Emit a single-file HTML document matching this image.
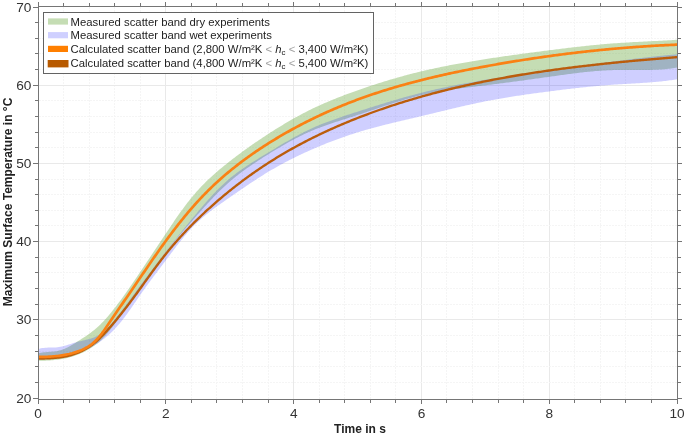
<!DOCTYPE html>
<html><head><meta charset="utf-8"><style>
html,body{margin:0;padding:0;background:#fff;width:685px;height:436px;overflow:hidden}
svg{display:block;font-family:"Liberation Sans",sans-serif}
</style></head><body>
<svg width="685" height="436" viewBox="0 0 685 436" font-family="'Liberation Sans', sans-serif" fill="#222">
<rect width="685" height="436" fill="#fff"/>
<line x1="63.5" y1="7" x2="63.5" y2="399" stroke="#f5f5f5" stroke-width="1" stroke-dasharray="2,1"/>
<line x1="89.5" y1="7" x2="89.5" y2="399" stroke="#f5f5f5" stroke-width="1" stroke-dasharray="2,1"/>
<line x1="114.5" y1="7" x2="114.5" y2="399" stroke="#f5f5f5" stroke-width="1" stroke-dasharray="2,1"/>
<line x1="140.5" y1="7" x2="140.5" y2="399" stroke="#f5f5f5" stroke-width="1" stroke-dasharray="2,1"/>
<line x1="165.5" y1="7" x2="165.5" y2="399" stroke="#e9e9e9" stroke-width="1"/>
<line x1="191.5" y1="7" x2="191.5" y2="399" stroke="#f5f5f5" stroke-width="1" stroke-dasharray="2,1"/>
<line x1="216.5" y1="7" x2="216.5" y2="399" stroke="#f5f5f5" stroke-width="1" stroke-dasharray="2,1"/>
<line x1="242.5" y1="7" x2="242.5" y2="399" stroke="#f5f5f5" stroke-width="1" stroke-dasharray="2,1"/>
<line x1="268.5" y1="7" x2="268.5" y2="399" stroke="#f5f5f5" stroke-width="1" stroke-dasharray="2,1"/>
<line x1="293.5" y1="7" x2="293.5" y2="399" stroke="#e9e9e9" stroke-width="1"/>
<line x1="319.5" y1="7" x2="319.5" y2="399" stroke="#f5f5f5" stroke-width="1" stroke-dasharray="2,1"/>
<line x1="344.5" y1="7" x2="344.5" y2="399" stroke="#f5f5f5" stroke-width="1" stroke-dasharray="2,1"/>
<line x1="370.5" y1="7" x2="370.5" y2="399" stroke="#f5f5f5" stroke-width="1" stroke-dasharray="2,1"/>
<line x1="395.5" y1="7" x2="395.5" y2="399" stroke="#f5f5f5" stroke-width="1" stroke-dasharray="2,1"/>
<line x1="421.5" y1="7" x2="421.5" y2="399" stroke="#e9e9e9" stroke-width="1"/>
<line x1="446.5" y1="7" x2="446.5" y2="399" stroke="#f5f5f5" stroke-width="1" stroke-dasharray="2,1"/>
<line x1="472.5" y1="7" x2="472.5" y2="399" stroke="#f5f5f5" stroke-width="1" stroke-dasharray="2,1"/>
<line x1="498.5" y1="7" x2="498.5" y2="399" stroke="#f5f5f5" stroke-width="1" stroke-dasharray="2,1"/>
<line x1="523.5" y1="7" x2="523.5" y2="399" stroke="#f5f5f5" stroke-width="1" stroke-dasharray="2,1"/>
<line x1="549.5" y1="7" x2="549.5" y2="399" stroke="#e9e9e9" stroke-width="1"/>
<line x1="574.5" y1="7" x2="574.5" y2="399" stroke="#f5f5f5" stroke-width="1" stroke-dasharray="2,1"/>
<line x1="600.5" y1="7" x2="600.5" y2="399" stroke="#f5f5f5" stroke-width="1" stroke-dasharray="2,1"/>
<line x1="625.5" y1="7" x2="625.5" y2="399" stroke="#f5f5f5" stroke-width="1" stroke-dasharray="2,1"/>
<line x1="651.5" y1="7" x2="651.5" y2="399" stroke="#f5f5f5" stroke-width="1" stroke-dasharray="2,1"/>
<line x1="39" y1="382.5" x2="677" y2="382.5" stroke="#f5f5f5" stroke-width="1" stroke-dasharray="2,1"/>
<line x1="39" y1="366.5" x2="677" y2="366.5" stroke="#f5f5f5" stroke-width="1" stroke-dasharray="2,1"/>
<line x1="39" y1="351.5" x2="677" y2="351.5" stroke="#f5f5f5" stroke-width="1" stroke-dasharray="2,1"/>
<line x1="39" y1="335.5" x2="677" y2="335.5" stroke="#f5f5f5" stroke-width="1" stroke-dasharray="2,1"/>
<line x1="39" y1="319.5" x2="677" y2="319.5" stroke="#e9e9e9" stroke-width="1"/>
<line x1="39" y1="304.5" x2="677" y2="304.5" stroke="#f5f5f5" stroke-width="1" stroke-dasharray="2,1"/>
<line x1="39" y1="288.5" x2="677" y2="288.5" stroke="#f5f5f5" stroke-width="1" stroke-dasharray="2,1"/>
<line x1="39" y1="272.5" x2="677" y2="272.5" stroke="#f5f5f5" stroke-width="1" stroke-dasharray="2,1"/>
<line x1="39" y1="257.5" x2="677" y2="257.5" stroke="#f5f5f5" stroke-width="1" stroke-dasharray="2,1"/>
<line x1="39" y1="241.5" x2="677" y2="241.5" stroke="#e9e9e9" stroke-width="1"/>
<line x1="39" y1="225.5" x2="677" y2="225.5" stroke="#f5f5f5" stroke-width="1" stroke-dasharray="2,1"/>
<line x1="39" y1="210.5" x2="677" y2="210.5" stroke="#f5f5f5" stroke-width="1" stroke-dasharray="2,1"/>
<line x1="39" y1="194.5" x2="677" y2="194.5" stroke="#f5f5f5" stroke-width="1" stroke-dasharray="2,1"/>
<line x1="39" y1="179.5" x2="677" y2="179.5" stroke="#f5f5f5" stroke-width="1" stroke-dasharray="2,1"/>
<line x1="39" y1="163.5" x2="677" y2="163.5" stroke="#e9e9e9" stroke-width="1"/>
<line x1="39" y1="147.5" x2="677" y2="147.5" stroke="#f5f5f5" stroke-width="1" stroke-dasharray="2,1"/>
<line x1="39" y1="132.5" x2="677" y2="132.5" stroke="#f5f5f5" stroke-width="1" stroke-dasharray="2,1"/>
<line x1="39" y1="116.5" x2="677" y2="116.5" stroke="#f5f5f5" stroke-width="1" stroke-dasharray="2,1"/>
<line x1="39" y1="100.5" x2="677" y2="100.5" stroke="#f5f5f5" stroke-width="1" stroke-dasharray="2,1"/>
<line x1="39" y1="85.5" x2="677" y2="85.5" stroke="#e9e9e9" stroke-width="1"/>
<line x1="39" y1="69.5" x2="677" y2="69.5" stroke="#f5f5f5" stroke-width="1" stroke-dasharray="2,1"/>
<line x1="39" y1="53.5" x2="677" y2="53.5" stroke="#f5f5f5" stroke-width="1" stroke-dasharray="2,1"/>
<line x1="39" y1="38.5" x2="677" y2="38.5" stroke="#f5f5f5" stroke-width="1" stroke-dasharray="2,1"/>
<line x1="39" y1="22.5" x2="677" y2="22.5" stroke="#f5f5f5" stroke-width="1" stroke-dasharray="2,1"/>
<path d="M38.10,353.52 L39.52,353.11 L40.97,352.78 L42.45,352.52 L43.95,352.32 L45.47,352.16 L47.00,352.04 L48.55,351.93 L50.09,351.82 L51.64,351.71 L53.18,351.58 L54.70,351.41 L56.21,351.20 L57.70,350.93 L59.16,350.59 L60.59,350.19 L62.01,349.73 L63.40,349.22 L64.77,348.65 L66.13,348.05 L67.47,347.40 L68.80,346.71 L70.11,346.00 L71.41,345.26 L72.71,344.49 L74.00,343.71 L75.28,342.92 L76.56,342.12 L77.84,341.31 L79.12,340.50 L80.39,339.69 L81.66,338.87 L82.93,338.05 L84.19,337.22 L85.44,336.38 L86.69,335.53 L87.92,334.66 L89.15,333.79 L90.36,332.90 L91.56,332.00 L92.75,331.08 L93.93,330.14 L95.09,329.19 L96.23,328.21 L97.36,327.22 L98.47,326.20 L99.57,325.17 L100.65,324.13 L101.71,323.06 L102.77,321.98 L103.81,320.89 L104.84,319.78 L105.85,318.66 L106.86,317.53 L107.85,316.38 L108.84,315.23 L109.81,314.07 L110.78,312.90 L111.74,311.72 L112.69,310.53 L113.64,309.34 L114.57,308.14 L115.51,306.94 L116.43,305.74 L117.36,304.53 L118.27,303.32 L119.19,302.10 L120.09,300.88 L121.00,299.66 L121.89,298.44 L122.79,297.22 L123.68,295.99 L124.57,294.76 L125.45,293.52 L126.33,292.29 L127.20,291.05 L128.07,289.81 L128.94,288.57 L129.81,287.33 L130.67,286.09 L131.53,284.84 L132.39,283.60 L133.24,282.35 L134.09,281.10 L134.94,279.85 L135.79,278.60 L136.64,277.35 L137.48,276.10 L138.33,274.85 L139.17,273.60 L140.01,272.36 L140.85,271.11 L141.68,269.86 L142.52,268.61 L143.36,267.36 L144.19,266.11 L145.03,264.86 L145.86,263.61 L146.69,262.36 L147.53,261.12 L148.36,259.87 L149.19,258.62 L150.02,257.37 L150.85,256.12 L151.69,254.87 L152.52,253.62 L153.35,252.37 L154.18,251.12 L155.01,249.86 L155.84,248.61 L156.67,247.36 L157.51,246.10 L158.34,244.85 L159.17,243.60 L160.01,242.34 L160.84,241.08 L161.67,239.82 L162.51,238.57 L163.35,237.31 L164.19,236.05 L165.02,234.78 L165.86,233.52 L166.71,232.26 L167.55,230.99 L168.39,229.73 L169.24,228.46 L170.09,227.19 L170.94,225.93 L171.79,224.66 L172.64,223.40 L173.50,222.13 L174.36,220.87 L175.22,219.61 L176.09,218.36 L176.96,217.10 L177.84,215.85 L178.71,214.60 L179.60,213.35 L180.48,212.11 L181.38,210.87 L182.27,209.64 L183.17,208.41 L184.08,207.19 L184.99,205.97 L185.91,204.75 L186.83,203.55 L187.76,202.35 L188.69,201.15 L189.63,199.96 L190.58,198.78 L191.54,197.61 L192.50,196.45 L193.47,195.29 L194.44,194.14 L195.43,193.00 L196.42,191.87 L197.42,190.75 L198.42,189.64 L199.44,188.53 L200.46,187.44 L201.49,186.36 L202.53,185.28 L203.58,184.22 L204.63,183.16 L205.69,182.11 L206.76,181.07 L207.84,180.03 L208.92,179.01 L210.01,177.99 L211.10,176.98 L212.20,175.97 L213.31,174.98 L214.42,173.98 L215.54,173.00 L216.66,172.02 L217.79,171.05 L218.93,170.08 L220.07,169.12 L221.22,168.16 L222.37,167.21 L223.52,166.26 L224.68,165.32 L225.85,164.38 L227.02,163.44 L228.19,162.51 L229.37,161.58 L230.55,160.66 L231.73,159.74 L232.92,158.82 L234.12,157.90 L235.31,156.99 L236.51,156.09 L237.72,155.18 L238.92,154.28 L240.13,153.38 L241.35,152.49 L242.56,151.60 L243.78,150.71 L245.00,149.82 L246.23,148.94 L247.46,148.06 L248.69,147.19 L249.92,146.32 L251.16,145.45 L252.40,144.58 L253.64,143.72 L254.88,142.87 L256.13,142.01 L257.38,141.16 L258.63,140.31 L259.88,139.47 L261.14,138.63 L262.39,137.79 L263.65,136.96 L264.91,136.13 L266.18,135.30 L267.44,134.48 L268.70,133.65 L269.97,132.84 L271.24,132.02 L272.51,131.22 L273.78,130.41 L275.06,129.61 L276.33,128.81 L277.61,128.01 L278.89,127.22 L280.17,126.44 L281.45,125.66 L282.74,124.88 L284.03,124.11 L285.32,123.34 L286.61,122.57 L287.91,121.81 L289.21,121.06 L290.51,120.31 L291.81,119.56 L293.12,118.82 L294.43,118.09 L295.74,117.36 L297.06,116.63 L298.38,115.91 L299.70,115.20 L301.03,114.49 L302.36,113.79 L303.69,113.09 L305.03,112.40 L306.37,111.71 L307.71,111.03 L309.06,110.36 L310.41,109.69 L311.77,109.03 L313.13,108.37 L314.49,107.72 L315.86,107.08 L317.23,106.44 L318.61,105.81 L319.99,105.18 L321.37,104.56 L322.76,103.95 L324.14,103.34 L325.53,102.73 L326.93,102.14 L328.33,101.54 L329.72,100.96 L331.13,100.38 L332.53,99.80 L333.93,99.23 L335.34,98.66 L336.75,98.10 L338.16,97.54 L339.57,96.99 L340.99,96.44 L342.40,95.90 L343.82,95.36 L345.23,94.82 L346.65,94.29 L348.06,93.76 L349.48,93.24 L350.90,92.72 L352.32,92.21 L353.73,91.70 L355.15,91.19 L356.57,90.68 L357.98,90.18 L359.40,89.69 L360.81,89.19 L362.23,88.70 L363.64,88.21 L365.05,87.73 L366.47,87.25 L367.88,86.77 L369.29,86.30 L370.71,85.83 L372.12,85.37 L373.53,84.90 L374.94,84.44 L376.35,83.99 L377.76,83.54 L379.18,83.09 L380.59,82.64 L382.00,82.20 L383.41,81.76 L384.83,81.33 L386.24,80.89 L387.65,80.47 L389.06,80.04 L390.48,79.62 L391.89,79.20 L393.31,78.79 L394.72,78.38 L396.14,77.97 L397.56,77.57 L398.97,77.17 L400.39,76.77 L401.81,76.38 L403.23,75.99 L404.65,75.61 L406.07,75.23 L407.49,74.85 L408.92,74.47 L410.34,74.10 L411.77,73.73 L413.20,73.37 L414.62,73.01 L416.05,72.65 L417.48,72.30 L418.92,71.95 L420.35,71.60 L421.78,71.26 L423.22,70.92 L424.66,70.58 L426.10,70.25 L427.54,69.92 L428.98,69.59 L430.42,69.27 L431.87,68.95 L433.31,68.64 L434.76,68.32 L436.21,68.01 L437.66,67.71 L439.11,67.40 L440.56,67.10 L442.01,66.81 L443.47,66.51 L444.92,66.22 L446.38,65.93 L447.84,65.64 L449.30,65.36 L450.76,65.08 L452.22,64.80 L453.69,64.52 L455.15,64.25 L456.62,63.98 L458.09,63.71 L459.56,63.44 L461.03,63.18 L462.50,62.92 L463.97,62.66 L465.44,62.40 L466.92,62.14 L468.39,61.89 L469.87,61.64 L471.35,61.39 L472.82,61.14 L474.30,60.90 L475.79,60.65 L477.27,60.41 L478.75,60.17 L480.23,59.93 L481.72,59.70 L483.21,59.46 L484.69,59.23 L486.18,58.99 L487.67,58.76 L489.16,58.54 L490.65,58.31 L492.14,58.08 L493.64,57.86 L495.13,57.63 L496.63,57.41 L498.12,57.19 L499.62,56.97 L501.12,56.75 L502.61,56.54 L504.11,56.32 L505.61,56.11 L507.11,55.89 L508.61,55.68 L510.11,55.47 L511.61,55.26 L513.11,55.05 L514.61,54.84 L516.12,54.63 L517.62,54.43 L519.12,54.22 L520.62,54.02 L522.13,53.82 L523.63,53.61 L525.13,53.41 L526.64,53.21 L528.14,53.01 L529.65,52.81 L531.15,52.61 L532.66,52.42 L534.16,52.22 L535.66,52.02 L537.17,51.83 L538.67,51.63 L540.18,51.44 L541.68,51.25 L543.18,51.05 L544.69,50.86 L546.19,50.67 L547.69,50.48 L549.19,50.29 L550.70,50.10 L552.20,49.91 L553.70,49.72 L555.20,49.53 L556.70,49.34 L558.20,49.15 L559.70,48.97 L561.20,48.78 L562.70,48.60 L564.20,48.41 L565.70,48.23 L567.20,48.05 L568.70,47.87 L570.20,47.69 L571.70,47.51 L573.20,47.34 L574.69,47.16 L576.19,46.99 L577.69,46.82 L579.19,46.65 L580.69,46.48 L582.19,46.32 L583.69,46.15 L585.19,45.99 L586.69,45.83 L588.19,45.67 L589.69,45.51 L591.19,45.36 L592.69,45.21 L594.19,45.06 L595.69,44.91 L597.19,44.77 L598.69,44.63 L600.19,44.49 L601.69,44.35 L603.20,44.22 L604.70,44.08 L606.20,43.96 L607.71,43.83 L609.21,43.71 L610.71,43.59 L612.22,43.47 L613.72,43.36 L615.23,43.25 L616.74,43.14 L618.24,43.04 L619.75,42.94 L621.26,42.84 L622.77,42.74 L624.28,42.65 L625.79,42.55 L627.30,42.46 L628.81,42.38 L630.31,42.29 L631.83,42.21 L633.34,42.12 L634.85,42.04 L636.36,41.96 L637.87,41.88 L639.38,41.80 L640.89,41.73 L642.40,41.65 L643.91,41.57 L645.42,41.50 L646.93,41.42 L648.44,41.35 L649.95,41.27 L651.46,41.20 L652.97,41.12 L654.48,41.05 L655.99,40.97 L657.50,40.89 L659.01,40.81 L660.52,40.73 L662.03,40.65 L663.54,40.57 L665.05,40.49 L666.55,40.41 L668.06,40.32 L669.57,40.23 L671.07,40.14 L672.58,40.05 L674.08,39.96 L675.59,39.86 L677.09,39.76 L677.10,67.56 L675.62,67.81 L674.15,68.05 L672.67,68.27 L671.19,68.48 L669.71,68.66 L668.23,68.84 L666.75,69.00 L665.27,69.14 L663.78,69.27 L662.30,69.39 L660.82,69.49 L659.33,69.59 L657.85,69.67 L656.36,69.74 L654.88,69.81 L653.39,69.86 L651.90,69.91 L650.41,69.94 L648.93,69.97 L647.44,70.00 L645.95,70.02 L644.46,70.03 L642.97,70.03 L641.48,70.04 L639.99,70.04 L638.50,70.03 L637.01,70.03 L635.52,70.02 L634.03,70.01 L632.54,70.00 L631.05,69.99 L629.56,69.98 L628.07,69.97 L626.58,69.97 L625.09,69.96 L623.60,69.96 L622.11,69.96 L620.62,69.97 L619.13,69.98 L617.64,70.00 L616.16,70.03 L614.67,70.06 L613.18,70.10 L611.69,70.14 L610.20,70.20 L608.72,70.26 L607.23,70.33 L605.75,70.40 L604.26,70.49 L602.78,70.58 L601.29,70.67 L599.81,70.78 L598.32,70.88 L596.84,71.00 L595.36,71.12 L593.87,71.25 L592.39,71.38 L590.91,71.52 L589.43,71.66 L587.95,71.81 L586.47,71.96 L584.99,72.12 L583.50,72.28 L582.02,72.45 L580.55,72.62 L579.07,72.79 L577.59,72.97 L576.11,73.15 L574.63,73.33 L573.15,73.52 L571.67,73.71 L570.20,73.90 L568.72,74.09 L567.24,74.29 L565.77,74.49 L564.29,74.69 L562.81,74.89 L561.34,75.09 L559.86,75.30 L558.39,75.50 L556.91,75.71 L555.44,75.92 L553.96,76.13 L552.49,76.33 L551.01,76.54 L549.54,76.75 L548.07,76.96 L546.59,77.17 L545.12,77.37 L543.65,77.58 L542.17,77.79 L540.70,77.99 L539.23,78.20 L537.75,78.40 L536.28,78.61 L534.81,78.81 L533.34,79.02 L531.87,79.22 L530.39,79.42 L528.92,79.62 L527.45,79.83 L525.98,80.03 L524.50,80.23 L523.03,80.43 L521.56,80.63 L520.09,80.83 L518.61,81.03 L517.14,81.22 L515.67,81.42 L514.20,81.62 L512.72,81.81 L511.25,82.01 L509.77,82.20 L508.30,82.40 L506.83,82.59 L505.35,82.78 L503.88,82.97 L502.40,83.16 L500.93,83.35 L499.45,83.54 L497.98,83.73 L496.50,83.92 L495.02,84.10 L493.55,84.29 L492.07,84.47 L490.59,84.66 L489.11,84.84 L487.63,85.02 L486.15,85.20 L484.67,85.38 L483.19,85.56 L481.71,85.74 L480.23,85.92 L478.75,86.10 L477.27,86.28 L475.78,86.46 L474.30,86.64 L472.82,86.81 L471.34,86.99 L469.86,87.18 L468.37,87.36 L466.89,87.54 L465.41,87.73 L463.93,87.92 L462.45,88.11 L460.97,88.30 L459.49,88.49 L458.01,88.69 L456.53,88.89 L455.05,89.10 L453.58,89.30 L452.10,89.52 L450.62,89.73 L449.15,89.95 L447.68,90.17 L446.20,90.40 L444.73,90.63 L443.26,90.87 L441.79,91.11 L440.33,91.36 L438.86,91.61 L437.39,91.87 L435.93,92.14 L434.47,92.41 L433.01,92.69 L431.55,92.97 L430.09,93.26 L428.64,93.56 L427.19,93.87 L425.73,94.18 L424.28,94.50 L422.84,94.83 L421.39,95.17 L419.95,95.51 L418.51,95.86 L417.07,96.23 L415.63,96.59 L414.20,96.97 L412.76,97.35 L411.33,97.74 L409.90,98.14 L408.47,98.54 L407.05,98.95 L405.62,99.36 L404.20,99.78 L402.77,100.21 L401.35,100.64 L399.93,101.07 L398.51,101.51 L397.09,101.95 L395.68,102.40 L394.26,102.85 L392.84,103.31 L391.43,103.76 L390.01,104.23 L388.60,104.69 L387.19,105.15 L385.77,105.62 L384.36,106.09 L382.95,106.57 L381.54,107.04 L380.12,107.51 L378.71,107.99 L377.30,108.47 L375.89,108.94 L374.48,109.42 L373.06,109.90 L371.65,110.37 L370.24,110.85 L368.83,111.33 L367.41,111.80 L366.00,112.27 L364.58,112.75 L363.17,113.22 L361.75,113.68 L360.33,114.15 L358.92,114.61 L357.50,115.07 L356.08,115.53 L354.66,115.98 L353.23,116.44 L351.81,116.89 L350.39,117.34 L348.97,117.78 L347.54,118.23 L346.12,118.68 L344.70,119.13 L343.28,119.58 L341.86,120.03 L340.44,120.48 L339.02,120.93 L337.60,121.39 L336.18,121.85 L334.77,122.31 L333.35,122.78 L331.94,123.25 L330.53,123.72 L329.12,124.20 L327.72,124.68 L326.32,125.17 L324.92,125.67 L323.52,126.17 L322.13,126.68 L320.74,127.20 L319.35,127.73 L317.96,128.26 L316.58,128.80 L315.21,129.35 L313.84,129.91 L312.47,130.48 L311.11,131.06 L309.75,131.66 L308.39,132.26 L307.04,132.87 L305.69,133.48 L304.35,134.11 L303.01,134.75 L301.68,135.40 L300.35,136.05 L299.02,136.71 L297.69,137.38 L296.37,138.06 L295.05,138.74 L293.74,139.43 L292.43,140.13 L291.12,140.84 L289.82,141.55 L288.51,142.27 L287.21,142.99 L285.92,143.72 L284.62,144.46 L283.33,145.20 L282.04,145.95 L280.76,146.70 L279.47,147.45 L278.19,148.21 L276.91,148.98 L275.63,149.75 L274.35,150.52 L273.08,151.29 L271.81,152.07 L270.54,152.86 L269.27,153.64 L268.00,154.43 L266.73,155.22 L265.47,156.01 L264.21,156.80 L262.95,157.60 L261.69,158.40 L260.43,159.21 L259.18,160.01 L257.93,160.83 L256.68,161.64 L255.44,162.46 L254.20,163.28 L252.96,164.11 L251.73,164.95 L250.50,165.78 L249.27,166.63 L248.05,167.48 L246.84,168.33 L245.63,169.19 L244.43,170.06 L243.23,170.93 L242.03,171.81 L240.84,172.70 L239.66,173.59 L238.49,174.49 L237.32,175.40 L236.16,176.31 L235.00,177.23 L233.85,178.17 L232.71,179.10 L231.58,180.05 L230.45,181.01 L229.33,181.97 L228.22,182.94 L227.12,183.93 L226.03,184.92 L224.94,185.91 L223.86,186.92 L222.78,187.93 L221.72,188.95 L220.66,189.98 L219.60,191.01 L218.55,192.05 L217.51,193.10 L216.47,194.15 L215.43,195.21 L214.40,196.27 L213.38,197.34 L212.36,198.41 L211.34,199.49 L210.33,200.57 L209.32,201.65 L208.31,202.74 L207.31,203.83 L206.31,204.92 L205.31,206.02 L204.31,207.12 L203.32,208.22 L202.32,209.32 L201.33,210.43 L200.34,211.54 L199.35,212.64 L198.36,213.75 L197.37,214.86 L196.39,215.97 L195.40,217.08 L194.41,218.19 L193.43,219.30 L192.44,220.42 L191.46,221.53 L190.47,222.64 L189.49,223.76 L188.51,224.88 L187.53,226.00 L186.56,227.12 L185.58,228.24 L184.61,229.36 L183.64,230.49 L182.67,231.61 L181.70,232.74 L180.74,233.87 L179.78,235.01 L178.82,236.14 L177.87,237.28 L176.91,238.42 L175.97,239.57 L175.02,240.71 L174.08,241.86 L173.14,243.01 L172.21,244.17 L171.28,245.33 L170.35,246.49 L169.43,247.65 L168.51,248.82 L167.60,249.99 L166.69,251.17 L165.79,252.35 L164.89,253.53 L164.00,254.72 L163.11,255.91 L162.23,257.10 L161.35,258.30 L160.47,259.50 L159.60,260.71 L158.73,261.91 L157.86,263.12 L157.00,264.33 L156.14,265.55 L155.28,266.76 L154.42,267.98 L153.57,269.20 L152.72,270.42 L151.87,271.64 L151.02,272.87 L150.18,274.09 L149.33,275.32 L148.49,276.55 L147.64,277.78 L146.80,279.00 L145.96,280.23 L145.11,281.46 L144.27,282.69 L143.43,283.92 L142.58,285.15 L141.74,286.38 L140.89,287.61 L140.04,288.84 L139.20,290.06 L138.35,291.29 L137.49,292.52 L136.64,293.74 L135.79,294.96 L134.93,296.19 L134.07,297.41 L133.21,298.63 L132.35,299.85 L131.49,301.07 L130.63,302.28 L129.76,303.50 L128.90,304.71 L128.03,305.92 L127.16,307.14 L126.29,308.35 L125.42,309.55 L124.54,310.76 L123.66,311.96 L122.79,313.17 L121.91,314.37 L121.03,315.57 L120.14,316.77 L119.26,317.96 L118.37,319.16 L117.48,320.35 L116.59,321.54 L115.70,322.73 L114.80,323.91 L113.91,325.10 L113.01,326.28 L112.10,327.45 L111.19,328.62 L110.28,329.78 L109.35,330.94 L108.41,332.08 L107.46,333.21 L106.50,334.33 L105.52,335.44 L104.53,336.53 L103.52,337.61 L102.50,338.66 L101.45,339.70 L100.38,340.72 L99.29,341.72 L98.17,342.70 L97.03,343.65 L95.87,344.58 L94.67,345.48 L93.45,346.36 L92.21,347.21 L90.95,348.04 L89.66,348.83 L88.36,349.60 L87.03,350.35 L85.70,351.06 L84.35,351.75 L82.99,352.41 L81.62,353.04 L80.24,353.65 L78.86,354.22 L77.48,354.77 L76.09,355.28 L74.70,355.77 L73.31,356.23 L71.91,356.67 L70.52,357.07 L69.11,357.45 L67.69,357.81 L66.27,358.14 L64.83,358.45 L63.39,358.74 L61.92,359.00 L60.44,359.25 L58.94,359.47 L57.42,359.68 L55.89,359.87 L54.33,360.04 L52.77,360.19 L51.21,360.32 L49.65,360.44 L48.10,360.54 L46.56,360.61 L45.06,360.67 L43.58,360.71 L42.14,360.74 L40.74,360.74 L39.39,360.72 L38.10,360.68 Z" fill="#6eaa44" fill-opacity="0.4"/>
<path d="M38.11,349.16 L39.47,348.70 L40.86,348.34 L42.30,348.08 L43.76,347.88 L45.25,347.75 L46.76,347.66 L48.29,347.61 L49.82,347.58 L51.35,347.56 L52.88,347.53 L54.40,347.48 L55.91,347.40 L57.40,347.27 L58.85,347.08 L60.29,346.84 L61.70,346.54 L63.10,346.21 L64.49,345.84 L65.87,345.44 L67.24,345.02 L68.61,344.59 L69.99,344.14 L71.37,343.69 L72.76,343.25 L74.16,342.81 L75.58,342.39 L77.02,342.00 L78.48,341.62 L79.96,341.27 L81.44,340.92 L82.94,340.58 L84.43,340.23 L85.92,339.87 L87.40,339.50 L88.88,339.11 L90.33,338.69 L91.76,338.24 L93.17,337.75 L94.55,337.21 L95.89,336.62 L97.19,335.98 L98.46,335.28 L99.69,334.52 L100.88,333.72 L102.05,332.87 L103.18,331.98 L104.29,331.05 L105.37,330.08 L106.42,329.08 L107.46,328.05 L108.47,327.00 L109.47,325.92 L110.45,324.81 L111.41,323.70 L112.37,322.56 L113.31,321.42 L114.25,320.26 L115.18,319.10 L116.10,317.94 L117.02,316.78 L117.94,315.61 L118.85,314.44 L119.76,313.27 L120.66,312.09 L121.56,310.92 L122.45,309.74 L123.35,308.55 L124.24,307.37 L125.12,306.19 L126.01,305.00 L126.89,303.81 L127.77,302.62 L128.65,301.43 L129.53,300.24 L130.40,299.05 L131.28,297.85 L132.15,296.66 L133.02,295.46 L133.89,294.27 L134.77,293.08 L135.64,291.88 L136.51,290.69 L137.38,289.49 L138.25,288.30 L139.13,287.10 L140.00,285.91 L140.88,284.72 L141.76,283.53 L142.64,282.34 L143.52,281.15 L144.40,279.96 L145.28,278.77 L146.16,277.59 L147.05,276.40 L147.93,275.22 L148.82,274.03 L149.71,272.85 L150.60,271.67 L151.49,270.49 L152.38,269.31 L153.27,268.13 L154.17,266.95 L155.06,265.77 L155.96,264.59 L156.85,263.42 L157.75,262.24 L158.65,261.07 L159.55,259.89 L160.45,258.72 L161.35,257.55 L162.25,256.38 L163.16,255.20 L164.06,254.04 L164.96,252.87 L165.87,251.70 L166.77,250.53 L167.68,249.36 L168.59,248.20 L169.50,247.03 L170.41,245.87 L171.32,244.71 L172.23,243.55 L173.14,242.38 L174.05,241.22 L174.96,240.06 L175.88,238.91 L176.80,237.75 L177.71,236.59 L178.63,235.44 L179.55,234.28 L180.47,233.13 L181.39,231.97 L182.32,230.82 L183.24,229.67 L184.17,228.52 L185.09,227.37 L186.02,226.22 L186.95,225.07 L187.89,223.92 L188.82,222.78 L189.75,221.63 L190.69,220.49 L191.63,219.34 L192.57,218.20 L193.51,217.06 L194.45,215.92 L195.40,214.78 L196.34,213.64 L197.29,212.50 L198.24,211.36 L199.20,210.23 L200.15,209.09 L201.11,207.96 L202.07,206.83 L203.03,205.70 L204.00,204.57 L204.97,203.45 L205.94,202.33 L206.92,201.21 L207.90,200.10 L208.89,199.00 L209.88,197.89 L210.87,196.80 L211.87,195.70 L212.88,194.62 L213.89,193.54 L214.91,192.47 L215.94,191.40 L216.97,190.34 L218.01,189.29 L219.05,188.24 L220.10,187.21 L221.16,186.18 L222.23,185.16 L223.30,184.15 L224.39,183.15 L225.48,182.16 L226.58,181.18 L227.69,180.21 L228.81,179.26 L229.94,178.31 L231.07,177.37 L232.22,176.45 L233.38,175.53 L234.54,174.63 L235.71,173.73 L236.89,172.85 L238.08,171.97 L239.27,171.11 L240.48,170.25 L241.68,169.40 L242.90,168.55 L244.12,167.72 L245.34,166.89 L246.58,166.07 L247.81,165.25 L249.05,164.44 L250.30,163.64 L251.54,162.84 L252.80,162.04 L254.05,161.25 L255.31,160.46 L256.57,159.68 L257.83,158.90 L259.09,158.12 L260.36,157.35 L261.63,156.58 L262.89,155.81 L264.16,155.04 L265.43,154.27 L266.70,153.50 L267.96,152.74 L269.23,151.97 L270.50,151.20 L271.76,150.43 L273.03,149.67 L274.29,148.91 L275.56,148.14 L276.82,147.38 L278.09,146.62 L279.35,145.87 L280.62,145.11 L281.89,144.36 L283.16,143.61 L284.43,142.86 L285.70,142.12 L286.97,141.38 L288.25,140.65 L289.52,139.92 L290.80,139.19 L292.08,138.47 L293.37,137.76 L294.65,137.05 L295.94,136.34 L297.23,135.64 L298.53,134.95 L299.82,134.27 L301.13,133.59 L302.43,132.91 L303.74,132.25 L305.05,131.59 L306.37,130.94 L307.69,130.30 L309.01,129.66 L310.34,129.04 L311.67,128.42 L313.01,127.81 L314.36,127.21 L315.70,126.62 L317.06,126.04 L318.41,125.47 L319.78,124.90 L321.14,124.35 L322.51,123.80 L323.88,123.25 L325.26,122.72 L326.64,122.19 L328.03,121.67 L329.41,121.15 L330.80,120.64 L332.19,120.14 L333.59,119.64 L334.99,119.14 L336.39,118.65 L337.79,118.17 L339.19,117.69 L340.60,117.21 L342.01,116.73 L343.41,116.26 L344.82,115.80 L346.23,115.33 L347.65,114.87 L349.06,114.41 L350.47,113.95 L351.89,113.49 L353.30,113.04 L354.71,112.58 L356.13,112.13 L357.54,111.68 L358.96,111.23 L360.37,110.77 L361.78,110.32 L363.19,109.87 L364.60,109.42 L366.02,108.97 L367.43,108.52 L368.84,108.07 L370.25,107.62 L371.66,107.18 L373.07,106.73 L374.48,106.29 L375.89,105.84 L377.31,105.40 L378.72,104.96 L380.13,104.52 L381.54,104.08 L382.95,103.65 L384.36,103.21 L385.77,102.78 L387.19,102.35 L388.60,101.92 L390.01,101.49 L391.43,101.07 L392.84,100.64 L394.26,100.22 L395.67,99.81 L397.09,99.39 L398.50,98.98 L399.92,98.57 L401.34,98.16 L402.75,97.75 L404.17,97.35 L405.59,96.95 L407.01,96.56 L408.43,96.16 L409.86,95.77 L411.28,95.39 L412.70,95.00 L414.13,94.63 L415.56,94.25 L416.98,93.88 L418.41,93.51 L419.84,93.14 L421.27,92.78 L422.70,92.42 L424.14,92.07 L425.57,91.72 L427.01,91.37 L428.44,91.03 L429.88,90.69 L431.32,90.36 L432.76,90.03 L434.20,89.70 L435.64,89.37 L437.09,89.05 L438.53,88.73 L439.98,88.42 L441.42,88.11 L442.87,87.80 L444.31,87.49 L445.76,87.19 L447.21,86.89 L448.66,86.59 L450.11,86.30 L451.56,86.00 L453.01,85.71 L454.47,85.43 L455.92,85.14 L457.37,84.86 L458.83,84.58 L460.28,84.30 L461.74,84.03 L463.19,83.75 L464.65,83.48 L466.11,83.21 L467.56,82.94 L469.02,82.68 L470.48,82.42 L471.93,82.15 L473.39,81.89 L474.85,81.63 L476.31,81.38 L477.77,81.12 L479.23,80.87 L480.69,80.61 L482.15,80.36 L483.61,80.11 L485.07,79.86 L486.52,79.61 L487.98,79.37 L489.44,79.12 L490.90,78.88 L492.36,78.63 L493.82,78.39 L495.28,78.15 L496.74,77.90 L498.20,77.66 L499.66,77.43 L501.12,77.19 L502.58,76.95 L504.04,76.72 L505.50,76.48 L506.96,76.25 L508.42,76.01 L509.88,75.78 L511.34,75.55 L512.81,75.32 L514.27,75.09 L515.73,74.87 L517.19,74.64 L518.65,74.41 L520.11,74.19 L521.57,73.96 L523.03,73.74 L524.49,73.52 L525.96,73.30 L527.42,73.08 L528.88,72.86 L530.34,72.64 L531.81,72.43 L533.27,72.21 L534.73,72.00 L536.19,71.78 L537.66,71.57 L539.12,71.36 L540.58,71.14 L542.05,70.93 L543.51,70.73 L544.97,70.52 L546.44,70.31 L547.90,70.10 L549.37,69.90 L550.83,69.69 L552.30,69.49 L553.76,69.29 L555.23,69.09 L556.69,68.88 L558.16,68.68 L559.62,68.48 L561.09,68.29 L562.55,68.09 L564.02,67.89 L565.49,67.69 L566.95,67.50 L568.42,67.30 L569.88,67.11 L571.35,66.91 L572.82,66.72 L574.28,66.53 L575.75,66.34 L577.22,66.14 L578.69,65.95 L580.15,65.76 L581.62,65.57 L583.09,65.38 L584.56,65.19 L586.02,65.00 L587.49,64.81 L588.96,64.62 L590.42,64.43 L591.89,64.24 L593.36,64.05 L594.83,63.86 L596.30,63.68 L597.76,63.49 L599.23,63.30 L600.70,63.11 L602.17,62.92 L603.63,62.73 L605.10,62.55 L606.57,62.36 L608.03,62.17 L609.50,61.98 L610.97,61.79 L612.44,61.60 L613.90,61.42 L615.37,61.23 L616.84,61.04 L618.30,60.85 L619.77,60.66 L621.24,60.47 L622.71,60.28 L624.17,60.09 L625.64,59.91 L627.11,59.72 L628.57,59.53 L630.04,59.35 L631.51,59.16 L632.98,58.98 L634.44,58.80 L635.91,58.61 L637.38,58.43 L638.85,58.26 L640.31,58.08 L641.78,57.90 L643.25,57.73 L644.72,57.55 L646.19,57.38 L647.66,57.21 L649.13,57.04 L650.60,56.88 L652.07,56.72 L653.54,56.55 L655.01,56.40 L656.48,56.24 L657.95,56.08 L659.42,55.93 L660.89,55.78 L662.36,55.64 L663.84,55.49 L665.31,55.35 L666.78,55.22 L668.26,55.08 L669.73,54.95 L671.20,54.82 L672.68,54.70 L674.15,54.58 L675.63,54.46 L677.11,54.35 L677.10,79.28 L675.65,79.51 L674.21,79.74 L672.76,79.96 L671.31,80.17 L669.86,80.37 L668.41,80.56 L666.95,80.74 L665.50,80.92 L664.05,81.09 L662.60,81.25 L661.14,81.41 L659.69,81.56 L658.23,81.70 L656.78,81.84 L655.32,81.97 L653.87,82.10 L652.41,82.22 L650.95,82.34 L649.50,82.45 L648.04,82.56 L646.58,82.66 L645.12,82.77 L643.66,82.86 L642.21,82.96 L640.75,83.05 L639.29,83.14 L637.83,83.23 L636.37,83.32 L634.91,83.41 L633.45,83.49 L631.99,83.58 L630.53,83.66 L629.07,83.74 L627.61,83.83 L626.15,83.91 L624.69,83.99 L623.23,84.08 L621.77,84.16 L620.31,84.25 L618.85,84.34 L617.39,84.43 L615.93,84.53 L614.47,84.62 L613.02,84.72 L611.56,84.82 L610.10,84.93 L608.64,85.04 L607.18,85.15 L605.72,85.26 L604.27,85.38 L602.81,85.50 L601.35,85.62 L599.89,85.75 L598.44,85.88 L596.98,86.01 L595.52,86.14 L594.07,86.28 L592.61,86.42 L591.15,86.56 L589.70,86.70 L588.24,86.85 L586.79,86.99 L585.33,87.14 L583.88,87.30 L582.42,87.45 L580.97,87.61 L579.51,87.76 L578.06,87.92 L576.61,88.09 L575.15,88.25 L573.70,88.42 L572.24,88.58 L570.79,88.75 L569.34,88.92 L567.88,89.09 L566.43,89.27 L564.98,89.44 L563.53,89.62 L562.08,89.79 L560.62,89.97 L559.17,90.15 L557.72,90.33 L556.27,90.51 L554.82,90.70 L553.37,90.88 L551.92,91.07 L550.46,91.25 L549.01,91.44 L547.56,91.63 L546.11,91.81 L544.66,92.00 L543.22,92.19 L541.77,92.38 L540.32,92.58 L538.87,92.77 L537.42,92.96 L535.97,93.16 L534.52,93.36 L533.07,93.55 L531.63,93.75 L530.18,93.96 L528.73,94.16 L527.29,94.36 L525.84,94.57 L524.39,94.78 L522.95,94.99 L521.50,95.20 L520.06,95.42 L518.61,95.63 L517.17,95.85 L515.73,96.07 L514.28,96.29 L512.84,96.52 L511.40,96.75 L509.96,96.98 L508.51,97.21 L507.07,97.45 L505.63,97.68 L504.19,97.92 L502.75,98.17 L501.31,98.41 L499.87,98.66 L498.43,98.91 L497.00,99.17 L495.56,99.43 L494.12,99.69 L492.69,99.95 L491.25,100.22 L489.81,100.49 L488.38,100.77 L486.95,101.04 L485.51,101.33 L484.08,101.61 L482.65,101.90 L481.21,102.19 L479.78,102.49 L478.35,102.79 L476.92,103.09 L475.49,103.39 L474.06,103.70 L472.63,104.01 L471.20,104.32 L469.78,104.64 L468.35,104.96 L466.92,105.28 L465.49,105.60 L464.07,105.93 L462.64,106.25 L461.21,106.58 L459.79,106.91 L458.36,107.24 L456.94,107.58 L455.51,107.91 L454.09,108.25 L452.66,108.59 L451.24,108.93 L449.81,109.27 L448.39,109.61 L446.97,109.95 L445.54,110.29 L444.12,110.64 L442.70,110.98 L441.27,111.33 L439.85,111.67 L438.43,112.02 L437.01,112.36 L435.58,112.71 L434.16,113.05 L432.74,113.40 L431.31,113.74 L429.89,114.08 L428.47,114.43 L427.05,114.77 L425.62,115.11 L424.20,115.45 L422.78,115.79 L421.35,116.13 L419.93,116.47 L418.51,116.81 L417.08,117.14 L415.66,117.48 L414.24,117.81 L412.81,118.15 L411.39,118.48 L409.97,118.82 L408.54,119.15 L407.12,119.48 L405.70,119.82 L404.27,120.15 L402.85,120.49 L401.43,120.82 L400.01,121.16 L398.59,121.50 L397.17,121.84 L395.75,122.18 L394.32,122.52 L392.91,122.86 L391.49,123.21 L390.07,123.56 L388.65,123.90 L387.23,124.26 L385.82,124.61 L384.40,124.96 L382.98,125.32 L381.57,125.68 L380.16,126.05 L378.74,126.41 L377.33,126.78 L375.92,127.16 L374.51,127.53 L373.10,127.91 L371.69,128.30 L370.28,128.69 L368.87,129.08 L367.47,129.47 L366.06,129.87 L364.66,130.28 L363.26,130.69 L361.86,131.10 L360.46,131.52 L359.06,131.94 L357.66,132.37 L356.26,132.81 L354.87,133.25 L353.48,133.69 L352.08,134.14 L350.69,134.60 L349.30,135.06 L347.92,135.52 L346.53,135.99 L345.14,136.47 L343.76,136.95 L342.38,137.43 L341.00,137.92 L339.62,138.42 L338.24,138.92 L336.87,139.42 L335.49,139.93 L334.12,140.44 L332.75,140.96 L331.38,141.49 L330.02,142.01 L328.65,142.55 L327.29,143.08 L325.93,143.62 L324.57,144.17 L323.21,144.72 L321.86,145.27 L320.50,145.83 L319.15,146.40 L317.80,146.96 L316.46,147.54 L315.11,148.11 L313.77,148.69 L312.43,149.28 L311.09,149.86 L309.75,150.46 L308.42,151.05 L307.09,151.65 L305.76,152.26 L304.43,152.87 L303.10,153.48 L301.78,154.10 L300.46,154.72 L299.14,155.35 L297.83,155.98 L296.52,156.62 L295.21,157.26 L293.90,157.90 L292.59,158.55 L291.29,159.21 L289.99,159.87 L288.70,160.53 L287.40,161.20 L286.11,161.87 L284.82,162.55 L283.53,163.24 L282.25,163.93 L280.97,164.62 L279.69,165.32 L278.42,166.02 L277.15,166.73 L275.88,167.45 L274.61,168.17 L273.35,168.89 L272.09,169.62 L270.83,170.36 L269.58,171.10 L268.33,171.85 L267.08,172.60 L265.83,173.36 L264.59,174.12 L263.35,174.89 L262.12,175.67 L260.88,176.44 L259.65,177.23 L258.43,178.01 L257.20,178.80 L255.97,179.60 L254.75,180.40 L253.53,181.20 L252.31,182.00 L251.10,182.81 L249.88,183.62 L248.67,184.44 L247.45,185.25 L246.24,186.07 L245.03,186.89 L243.82,187.72 L242.62,188.54 L241.41,189.37 L240.20,190.20 L239.00,191.03 L237.79,191.86 L236.58,192.69 L235.38,193.53 L234.17,194.36 L232.97,195.19 L231.76,196.03 L230.56,196.86 L229.35,197.70 L228.15,198.53 L226.94,199.37 L225.74,200.20 L224.53,201.04 L223.33,201.88 L222.13,202.72 L220.93,203.56 L219.73,204.40 L218.54,205.25 L217.35,206.11 L216.16,206.97 L214.98,207.83 L213.80,208.70 L212.63,209.57 L211.47,210.45 L210.30,211.34 L209.15,212.23 L208.00,213.13 L206.86,214.04 L205.73,214.96 L204.61,215.89 L203.49,216.82 L202.38,217.77 L201.29,218.72 L200.20,219.69 L199.12,220.67 L198.05,221.66 L197.00,222.66 L195.95,223.67 L194.92,224.70 L193.89,225.73 L192.88,226.78 L191.87,227.84 L190.88,228.91 L189.89,229.98 L188.91,231.07 L187.94,232.16 L186.98,233.27 L186.03,234.38 L185.08,235.49 L184.14,236.62 L183.20,237.75 L182.28,238.89 L181.36,240.03 L180.44,241.18 L179.53,242.33 L178.62,243.49 L177.72,244.65 L176.82,245.81 L175.93,246.98 L175.03,248.14 L174.15,249.32 L173.26,250.49 L172.38,251.66 L171.49,252.84 L170.61,254.01 L169.74,255.19 L168.86,256.36 L167.98,257.53 L167.10,258.70 L166.23,259.87 L165.35,261.04 L164.47,262.20 L163.59,263.37 L162.71,264.53 L161.83,265.69 L160.95,266.85 L160.08,268.01 L159.20,269.16 L158.32,270.32 L157.44,271.48 L156.57,272.63 L155.69,273.79 L154.82,274.95 L153.95,276.11 L153.08,277.26 L152.21,278.42 L151.34,279.59 L150.47,280.75 L149.61,281.91 L148.75,283.08 L147.88,284.25 L147.03,285.42 L146.17,286.59 L145.32,287.77 L144.47,288.94 L143.62,290.13 L142.77,291.31 L141.93,292.50 L141.09,293.70 L140.25,294.89 L139.42,296.09 L138.59,297.30 L137.76,298.51 L136.93,299.72 L136.11,300.93 L135.28,302.14 L134.45,303.35 L133.62,304.56 L132.79,305.77 L131.96,306.98 L131.12,308.19 L130.28,309.39 L129.43,310.59 L128.59,311.79 L127.73,312.98 L126.87,314.17 L126.00,315.35 L125.13,316.52 L124.24,317.69 L123.35,318.85 L122.45,320.00 L121.54,321.15 L120.62,322.28 L119.69,323.40 L118.74,324.51 L117.79,325.62 L116.82,326.70 L115.84,327.78 L114.84,328.84 L113.83,329.89 L112.80,330.93 L111.77,331.95 L110.71,332.96 L109.64,333.95 L108.56,334.92 L107.47,335.88 L106.36,336.83 L105.23,337.76 L104.09,338.67 L102.94,339.56 L101.77,340.44 L100.59,341.30 L99.40,342.14 L98.19,342.97 L96.97,343.77 L95.73,344.56 L94.48,345.33 L93.22,346.07 L91.94,346.80 L90.65,347.51 L89.35,348.19 L88.04,348.85 L86.72,349.48 L85.38,350.10 L84.04,350.68 L82.68,351.24 L81.32,351.78 L79.94,352.28 L78.56,352.76 L77.17,353.21 L75.77,353.63 L74.36,354.02 L72.94,354.38 L71.52,354.72 L70.10,355.03 L68.66,355.32 L67.23,355.58 L65.78,355.83 L64.34,356.06 L62.89,356.27 L61.44,356.47 L59.99,356.65 L58.53,356.82 L57.08,356.98 L55.62,357.14 L54.16,357.28 L52.71,357.41 L51.25,357.53 L49.79,357.65 L48.33,357.75 L46.87,357.84 L45.41,357.91 L43.95,357.98 L42.49,358.03 L41.03,358.07 L39.56,358.10 L38.10,358.11 Z" fill="#0000ff" fill-opacity="0.19"/>
<path d="M38.09,358.66 L39.58,358.62 L41.07,358.57 L42.56,358.53 L44.04,358.49 L45.53,358.44 L47.01,358.38 L48.49,358.32 L49.97,358.24 L51.44,358.16 L52.92,358.06 L54.39,357.94 L55.86,357.82 L57.33,357.67 L58.79,357.50 L60.25,357.32 L61.71,357.11 L63.17,356.88 L64.62,356.62 L66.06,356.33 L67.51,356.02 L68.94,355.67 L70.38,355.30 L71.81,354.89 L73.23,354.45 L74.65,353.97 L76.05,353.47 L77.45,352.93 L78.84,352.36 L80.21,351.76 L81.57,351.13 L82.91,350.46 L84.24,349.77 L85.55,349.05 L86.84,348.30 L88.10,347.52 L89.35,346.71 L90.57,345.87 L91.78,345.01 L92.96,344.11 L94.11,343.20 L95.25,342.26 L96.38,341.30 L97.48,340.32 L98.57,339.32 L99.64,338.31 L100.70,337.28 L101.74,336.23 L102.78,335.17 L103.80,334.10 L104.81,333.02 L105.82,331.93 L106.81,330.84 L107.80,329.73 L108.78,328.63 L109.76,327.52 L110.73,326.40 L111.70,325.28 L112.66,324.16 L113.62,323.04 L114.57,321.91 L115.52,320.77 L116.46,319.64 L117.40,318.50 L118.34,317.36 L119.27,316.21 L120.19,315.06 L121.11,313.91 L122.03,312.76 L122.95,311.60 L123.86,310.44 L124.77,309.28 L125.67,308.11 L126.57,306.94 L127.47,305.77 L128.37,304.60 L129.26,303.42 L130.15,302.24 L131.04,301.06 L131.92,299.88 L132.80,298.69 L133.68,297.51 L134.56,296.32 L135.43,295.12 L136.31,293.93 L137.18,292.74 L138.05,291.54 L138.92,290.34 L139.79,289.15 L140.65,287.95 L141.52,286.75 L142.39,285.54 L143.25,284.34 L144.12,283.14 L144.98,281.94 L145.85,280.74 L146.71,279.54 L147.58,278.34 L148.44,277.14 L149.31,275.94 L150.18,274.74 L151.05,273.54 L151.92,272.35 L152.79,271.15 L153.67,269.96 L154.55,268.77 L155.42,267.58 L156.31,266.39 L157.19,265.21 L158.08,264.03 L158.97,262.85 L159.86,261.67 L160.76,260.50 L161.66,259.33 L162.56,258.16 L163.47,257.00 L164.38,255.84 L165.30,254.69 L166.22,253.54 L167.14,252.39 L168.07,251.25 L169.01,250.11 L169.95,248.97 L170.89,247.84 L171.84,246.72 L172.79,245.60 L173.75,244.48 L174.71,243.37 L175.67,242.26 L176.64,241.15 L177.62,240.05 L178.60,238.95 L179.58,237.86 L180.57,236.77 L181.56,235.68 L182.55,234.60 L183.55,233.52 L184.56,232.45 L185.57,231.38 L186.58,230.31 L187.60,229.25 L188.62,228.19 L189.64,227.14 L190.67,226.08 L191.70,225.04 L192.74,223.99 L193.78,222.95 L194.82,221.91 L195.87,220.88 L196.92,219.85 L197.97,218.82 L199.03,217.80 L200.09,216.78 L201.16,215.76 L202.23,214.75 L203.30,213.74 L204.38,212.74 L205.46,211.73 L206.54,210.73 L207.63,209.74 L208.72,208.75 L209.82,207.76 L210.91,206.77 L212.01,205.79 L213.12,204.81 L214.23,203.83 L215.34,202.86 L216.45,201.89 L217.57,200.92 L218.69,199.96 L219.81,199.00 L220.94,198.04 L222.07,197.09 L223.20,196.14 L224.34,195.19 L225.48,194.25 L226.62,193.31 L227.77,192.37 L228.92,191.44 L230.07,190.51 L231.23,189.59 L232.38,188.66 L233.55,187.75 L234.71,186.83 L235.88,185.92 L237.05,185.02 L238.22,184.11 L239.40,183.21 L240.58,182.32 L241.76,181.43 L242.95,180.54 L244.14,179.65 L245.33,178.77 L246.52,177.90 L247.72,177.03 L248.92,176.16 L250.13,175.29 L251.33,174.43 L252.54,173.58 L253.75,172.72 L254.97,171.88 L256.19,171.03 L257.41,170.19 L258.63,169.36 L259.86,168.53 L261.08,167.70 L262.32,166.87 L263.55,166.06 L264.79,165.24 L266.03,164.43 L267.27,163.63 L268.51,162.82 L269.76,162.03 L271.01,161.23 L272.26,160.44 L273.52,159.66 L274.78,158.88 L276.04,158.10 L277.30,157.33 L278.57,156.57 L279.84,155.80 L281.11,155.04 L282.38,154.29 L283.66,153.54 L284.93,152.79 L286.21,152.05 L287.50,151.31 L288.78,150.58 L290.07,149.85 L291.36,149.12 L292.65,148.40 L293.94,147.69 L295.24,146.97 L296.54,146.26 L297.84,145.56 L299.14,144.86 L300.45,144.16 L301.76,143.47 L303.07,142.78 L304.38,142.09 L305.69,141.41 L307.01,140.73 L308.32,140.06 L309.64,139.39 L310.97,138.72 L312.29,138.06 L313.61,137.40 L314.94,136.75 L316.27,136.10 L317.60,135.45 L318.94,134.81 L320.27,134.17 L321.61,133.53 L322.95,132.90 L324.29,132.27 L325.63,131.65 L326.97,131.03 L328.32,130.41 L329.67,129.80 L331.01,129.19 L332.36,128.58 L333.72,127.98 L335.07,127.38 L336.43,126.78 L337.78,126.19 L339.14,125.60 L340.50,125.02 L341.86,124.43 L343.23,123.86 L344.59,123.28 L345.96,122.71 L347.32,122.14 L348.69,121.58 L350.06,121.02 L351.43,120.46 L352.81,119.91 L354.18,119.36 L355.56,118.81 L356.93,118.26 L358.31,117.72 L359.69,117.19 L361.07,116.65 L362.45,116.12 L363.83,115.59 L365.22,115.07 L366.60,114.55 L367.99,114.03 L369.38,113.52 L370.76,113.00 L372.15,112.50 L373.55,111.99 L374.94,111.49 L376.33,110.99 L377.72,110.50 L379.12,110.00 L380.52,109.51 L381.91,109.03 L383.31,108.54 L384.71,108.06 L386.11,107.59 L387.51,107.11 L388.92,106.64 L390.32,106.17 L391.73,105.71 L393.13,105.25 L394.54,104.79 L395.95,104.33 L397.36,103.88 L398.77,103.43 L400.18,102.98 L401.59,102.54 L403.00,102.10 L404.41,101.66 L405.83,101.23 L407.24,100.79 L408.66,100.36 L410.08,99.94 L411.50,99.51 L412.91,99.09 L414.33,98.68 L415.75,98.26 L417.18,97.85 L418.60,97.44 L420.02,97.03 L421.45,96.63 L422.87,96.23 L424.30,95.83 L425.72,95.43 L427.15,95.04 L428.58,94.65 L430.01,94.26 L431.44,93.88 L432.87,93.49 L434.30,93.12 L435.73,92.74 L437.16,92.36 L438.60,91.99 L440.03,91.62 L441.46,91.26 L442.90,90.89 L444.34,90.53 L445.77,90.17 L447.21,89.82 L448.65,89.46 L450.09,89.11 L451.53,88.76 L452.97,88.42 L454.41,88.08 L455.85,87.73 L457.29,87.40 L458.73,87.06 L460.17,86.73 L461.62,86.40 L463.06,86.07 L464.50,85.74 L465.95,85.42 L467.40,85.10 L468.84,84.78 L470.29,84.46 L471.74,84.14 L473.18,83.83 L474.63,83.52 L476.08,83.22 L477.53,82.91 L478.98,82.61 L480.43,82.31 L481.88,82.01 L483.33,81.71 L484.78,81.42 L486.23,81.13 L487.68,80.84 L489.13,80.55 L490.59,80.27 L492.04,79.98 L493.49,79.70 L494.95,79.43 L496.40,79.15 L497.86,78.88 L499.31,78.60 L500.77,78.33 L502.22,78.07 L503.68,77.80 L505.14,77.54 L506.59,77.27 L508.05,77.02 L509.51,76.76 L510.96,76.50 L512.42,76.25 L513.88,76.00 L515.34,75.75 L516.80,75.50 L518.26,75.25 L519.72,75.01 L521.18,74.77 L522.64,74.53 L524.10,74.29 L525.56,74.05 L527.02,73.82 L528.48,73.59 L529.95,73.36 L531.41,73.13 L532.87,72.90 L534.33,72.68 L535.80,72.45 L537.26,72.23 L538.72,72.01 L540.19,71.79 L541.65,71.57 L543.12,71.36 L544.58,71.15 L546.05,70.93 L547.51,70.73 L548.98,70.52 L550.44,70.31 L551.91,70.11 L553.38,69.90 L554.84,69.70 L556.31,69.50 L557.78,69.30 L559.24,69.10 L560.71,68.91 L562.18,68.71 L563.65,68.52 L565.12,68.33 L566.58,68.14 L568.05,67.95 L569.52,67.77 L570.99,67.58 L572.46,67.40 L573.93,67.21 L575.40,67.03 L576.87,66.85 L578.34,66.68 L579.81,66.50 L581.28,66.32 L582.75,66.15 L584.22,65.98 L585.69,65.81 L587.16,65.63 L588.64,65.47 L590.11,65.30 L591.58,65.13 L593.05,64.97 L594.52,64.80 L595.99,64.64 L597.47,64.48 L598.94,64.32 L600.41,64.16 L601.88,64.00 L603.36,63.84 L604.83,63.69 L606.30,63.53 L607.78,63.38 L609.25,63.23 L610.72,63.07 L612.20,62.92 L613.67,62.77 L615.14,62.63 L616.62,62.48 L618.09,62.33 L619.57,62.19 L621.04,62.04 L622.51,61.90 L623.99,61.76 L625.46,61.62 L626.94,61.47 L628.41,61.33 L629.89,61.20 L631.36,61.06 L632.84,60.92 L634.31,60.78 L635.79,60.65 L637.26,60.51 L638.74,60.38 L640.21,60.25 L641.69,60.12 L643.16,59.98 L644.64,59.85 L646.11,59.72 L647.59,59.59 L649.06,59.47 L650.54,59.34 L652.01,59.21 L653.49,59.08 L654.96,58.96 L656.44,58.83 L657.91,58.71 L659.39,58.58 L660.86,58.46 L662.34,58.34 L663.81,58.22 L665.29,58.09 L666.77,57.97 L668.24,57.85 L669.72,57.73 L671.19,57.61 L672.67,57.49 L674.14,57.38 L675.62,57.26 L677.09,57.14" fill="none" stroke="#bb5d0c" stroke-width="2.35" stroke-linejoin="round"/>
<path d="M38.07,356.93 L39.66,356.91 L41.22,356.89 L42.77,356.86 L44.31,356.83 L45.83,356.78 L47.33,356.73 L48.83,356.66 L50.31,356.59 L51.79,356.49 L53.25,356.39 L54.71,356.26 L56.16,356.13 L57.61,355.97 L59.06,355.80 L60.51,355.60 L61.96,355.39 L63.40,355.15 L64.86,354.89 L66.31,354.61 L67.77,354.30 L69.24,353.97 L70.72,353.60 L72.20,353.22 L73.69,352.80 L75.18,352.35 L76.66,351.87 L78.13,351.36 L79.59,350.82 L81.04,350.24 L82.47,349.63 L83.87,348.98 L85.25,348.29 L86.59,347.56 L87.90,346.79 L89.18,345.99 L90.41,345.14 L91.60,344.25 L92.76,343.32 L93.87,342.36 L94.95,341.36 L96.00,340.33 L97.02,339.27 L98.01,338.18 L98.98,337.07 L99.92,335.93 L100.84,334.77 L101.75,333.60 L102.64,332.40 L103.51,331.20 L104.38,329.98 L105.23,328.75 L106.08,327.51 L106.92,326.27 L107.77,325.03 L108.61,323.78 L109.45,322.54 L110.30,321.29 L111.15,320.05 L112.00,318.80 L112.85,317.56 L113.70,316.31 L114.55,315.07 L115.40,313.82 L116.25,312.58 L117.11,311.33 L117.96,310.09 L118.82,308.85 L119.68,307.60 L120.53,306.36 L121.39,305.12 L122.25,303.87 L123.10,302.63 L123.96,301.39 L124.82,300.14 L125.67,298.90 L126.53,297.66 L127.38,296.42 L128.24,295.18 L129.09,293.94 L129.95,292.69 L130.80,291.45 L131.65,290.21 L132.50,288.97 L133.35,287.73 L134.20,286.49 L135.05,285.25 L135.90,284.01 L136.74,282.77 L137.59,281.53 L138.43,280.29 L139.27,279.06 L140.12,277.82 L140.96,276.58 L141.80,275.34 L142.64,274.11 L143.48,272.87 L144.33,271.63 L145.17,270.40 L146.01,269.16 L146.86,267.93 L147.70,266.70 L148.54,265.46 L149.39,264.23 L150.24,263.00 L151.08,261.77 L151.93,260.54 L152.78,259.31 L153.63,258.09 L154.49,256.86 L155.34,255.63 L156.20,254.41 L157.05,253.18 L157.91,251.96 L158.78,250.74 L159.64,249.52 L160.51,248.30 L161.38,247.08 L162.25,245.86 L163.13,244.64 L164.00,243.43 L164.88,242.21 L165.77,241.00 L166.65,239.79 L167.54,238.58 L168.44,237.37 L169.34,236.16 L170.24,234.96 L171.14,233.75 L172.05,232.55 L172.96,231.35 L173.87,230.15 L174.79,228.95 L175.71,227.76 L176.64,226.57 L177.57,225.38 L178.50,224.19 L179.44,223.01 L180.38,221.83 L181.32,220.65 L182.27,219.48 L183.22,218.30 L184.18,217.13 L185.14,215.97 L186.11,214.81 L187.08,213.65 L188.05,212.49 L189.03,211.34 L190.01,210.19 L190.99,209.05 L191.99,207.91 L192.98,206.77 L193.98,205.64 L194.98,204.51 L195.99,203.39 L197.00,202.27 L198.02,201.16 L199.04,200.05 L200.07,198.95 L201.10,197.85 L202.14,196.75 L203.18,195.66 L204.23,194.58 L205.28,193.50 L206.33,192.43 L207.39,191.36 L208.46,190.30 L209.53,189.24 L210.61,188.19 L211.69,187.15 L212.77,186.11 L213.86,185.07 L214.96,184.05 L216.06,183.03 L217.17,182.01 L218.28,181.00 L219.39,179.99 L220.51,179.00 L221.64,178.00 L222.77,177.01 L223.90,176.03 L225.04,175.05 L226.18,174.08 L227.33,173.12 L228.48,172.16 L229.63,171.20 L230.79,170.25 L231.96,169.31 L233.13,168.37 L234.30,167.43 L235.48,166.50 L236.66,165.58 L237.84,164.66 L239.03,163.74 L240.22,162.83 L241.42,161.93 L242.62,161.03 L243.83,160.14 L245.03,159.25 L246.25,158.36 L247.46,157.48 L248.68,156.61 L249.90,155.74 L251.13,154.87 L252.36,154.01 L253.59,153.16 L254.83,152.30 L256.06,151.46 L257.31,150.62 L258.55,149.78 L259.80,148.94 L261.05,148.11 L262.31,147.29 L263.57,146.47 L264.83,145.65 L266.09,144.84 L267.36,144.04 L268.63,143.23 L269.90,142.43 L271.18,141.64 L272.46,140.85 L273.74,140.06 L275.02,139.28 L276.31,138.51 L277.60,137.73 L278.89,136.96 L280.18,136.20 L281.48,135.44 L282.78,134.68 L284.08,133.93 L285.39,133.18 L286.69,132.44 L288.00,131.70 L289.32,130.96 L290.63,130.23 L291.95,129.51 L293.27,128.78 L294.59,128.07 L295.91,127.35 L297.24,126.64 L298.57,125.94 L299.90,125.24 L301.24,124.54 L302.57,123.85 L303.91,123.16 L305.25,122.47 L306.59,121.79 L307.94,121.12 L309.29,120.45 L310.64,119.78 L311.99,119.12 L313.34,118.46 L314.70,117.80 L316.05,117.15 L317.41,116.50 L318.78,115.86 L320.14,115.22 L321.51,114.59 L322.87,113.96 L324.24,113.34 L325.62,112.71 L326.99,112.10 L328.37,111.48 L329.74,110.88 L331.12,110.27 L332.50,109.67 L333.89,109.08 L335.27,108.48 L336.66,107.90 L338.05,107.31 L339.44,106.73 L340.83,106.16 L342.22,105.59 L343.62,105.02 L345.01,104.46 L346.41,103.90 L347.81,103.35 L349.21,102.80 L350.61,102.25 L352.02,101.71 L353.42,101.17 L354.83,100.64 L356.24,100.11 L357.65,99.58 L359.06,99.06 L360.47,98.55 L361.89,98.04 L363.30,97.53 L364.72,97.02 L366.14,96.52 L367.56,96.03 L368.98,95.53 L370.40,95.05 L371.83,94.56 L373.25,94.08 L374.68,93.60 L376.11,93.13 L377.54,92.66 L378.97,92.20 L380.40,91.74 L381.83,91.28 L383.26,90.82 L384.70,90.37 L386.13,89.93 L387.57,89.48 L389.01,89.04 L390.45,88.61 L391.89,88.17 L393.33,87.74 L394.77,87.32 L396.22,86.90 L397.66,86.48 L399.11,86.06 L400.55,85.65 L402.00,85.24 L403.45,84.83 L404.90,84.43 L406.35,84.03 L407.80,83.63 L409.25,83.24 L410.71,82.85 L412.16,82.46 L413.62,82.08 L415.07,81.70 L416.53,81.32 L417.99,80.94 L419.45,80.57 L420.90,80.20 L422.36,79.83 L423.83,79.47 L425.29,79.11 L426.75,78.75 L428.21,78.39 L429.68,78.04 L431.14,77.69 L432.61,77.34 L434.07,77.00 L435.54,76.65 L437.01,76.31 L438.48,75.98 L439.95,75.64 L441.42,75.31 L442.89,74.98 L444.36,74.65 L445.83,74.33 L447.30,74.00 L448.77,73.68 L450.25,73.36 L451.72,73.05 L453.19,72.73 L454.67,72.42 L456.14,72.11 L457.62,71.81 L459.09,71.50 L460.57,71.20 L462.05,70.90 L463.52,70.60 L465.00,70.30 L466.48,70.00 L467.96,69.71 L469.44,69.42 L470.92,69.13 L472.40,68.84 L473.88,68.55 L475.36,68.27 L476.84,67.99 L478.32,67.71 L479.80,67.43 L481.28,67.15 L482.76,66.87 L484.24,66.60 L485.73,66.33 L487.21,66.05 L488.69,65.78 L490.17,65.52 L491.66,65.25 L493.14,64.98 L494.62,64.72 L496.11,64.46 L497.59,64.20 L499.07,63.94 L500.56,63.68 L502.04,63.42 L503.53,63.17 L505.01,62.92 L506.50,62.67 L507.98,62.42 L509.47,62.17 L510.95,61.92 L512.44,61.68 L513.92,61.43 L515.41,61.19 L516.90,60.95 L518.38,60.71 L519.87,60.47 L521.36,60.24 L522.84,60.00 L524.33,59.77 L525.82,59.54 L527.31,59.31 L528.79,59.08 L530.28,58.85 L531.77,58.63 L533.26,58.41 L534.75,58.19 L536.24,57.97 L537.73,57.75 L539.22,57.53 L540.71,57.31 L542.20,57.10 L543.69,56.89 L545.18,56.68 L546.67,56.47 L548.16,56.26 L549.65,56.06 L551.14,55.85 L552.63,55.65 L554.12,55.45 L555.61,55.25 L557.11,55.05 L558.60,54.86 L560.09,54.66 L561.58,54.47 L563.08,54.28 L564.57,54.09 L566.06,53.90 L567.56,53.71 L569.05,53.53 L570.54,53.35 L572.04,53.17 L573.53,52.99 L575.03,52.81 L576.52,52.63 L578.01,52.46 L579.51,52.28 L581.00,52.11 L582.50,51.94 L584.00,51.77 L585.49,51.61 L586.99,51.44 L588.48,51.28 L589.98,51.12 L591.48,50.96 L592.97,50.80 L594.47,50.64 L595.97,50.49 L597.47,50.34 L598.96,50.18 L600.46,50.03 L601.96,49.89 L603.46,49.74 L604.96,49.60 L606.46,49.45 L607.96,49.31 L609.45,49.17 L610.95,49.03 L612.45,48.90 L613.95,48.76 L615.45,48.63 L616.95,48.50 L618.45,48.37 L619.95,48.24 L621.46,48.11 L622.96,47.99 L624.46,47.87 L625.96,47.75 L627.46,47.63 L628.96,47.51 L630.47,47.39 L631.97,47.28 L633.47,47.17 L634.97,47.06 L636.48,46.95 L637.98,46.84 L639.48,46.73 L640.99,46.63 L642.49,46.53 L643.99,46.43 L645.50,46.33 L647.00,46.23 L648.51,46.14 L650.01,46.04 L651.52,45.95 L653.02,45.86 L654.53,45.77 L656.03,45.69 L657.54,45.60 L659.05,45.52 L660.55,45.44 L662.06,45.36 L663.56,45.28 L665.07,45.20 L666.58,45.13 L668.09,45.06 L669.59,44.99 L671.10,44.92 L672.61,44.85 L674.12,44.78 L675.63,44.72 L677.13,44.66" fill="none" stroke="#fa8114" stroke-width="2.7" stroke-linejoin="round"/>
<path d="M38.5,2 V404 M677.5,2 V404 M38,6.5 H678 M38,399.5 H678" stroke="#757575" stroke-width="1" fill="none"/>
<path d="M38.5,400 v4 M38.5,6 v-4 M63.5,400 v3 M63.5,6 v-3 M89.5,400 v3 M89.5,6 v-3 M114.5,400 v3 M114.5,6 v-3 M140.5,400 v3 M140.5,6 v-3 M165.5,400 v4 M165.5,6 v-4 M191.5,400 v3 M191.5,6 v-3 M216.5,400 v3 M216.5,6 v-3 M242.5,400 v3 M242.5,6 v-3 M268.5,400 v3 M268.5,6 v-3 M293.5,400 v4 M293.5,6 v-4 M319.5,400 v3 M319.5,6 v-3 M344.5,400 v3 M344.5,6 v-3 M370.5,400 v3 M370.5,6 v-3 M395.5,400 v3 M395.5,6 v-3 M421.5,400 v4 M421.5,6 v-4 M446.5,400 v3 M446.5,6 v-3 M472.5,400 v3 M472.5,6 v-3 M498.5,400 v3 M498.5,6 v-3 M523.5,400 v3 M523.5,6 v-3 M549.5,400 v4 M549.5,6 v-4 M574.5,400 v3 M574.5,6 v-3 M600.5,400 v3 M600.5,6 v-3 M625.5,400 v3 M625.5,6 v-3 M651.5,400 v3 M651.5,6 v-3 M677.5,400 v4 M677.5,6 v-4 M38,398.5 h-5 M678,398.5 h4 M38,382.5 h-3 M678,382.5 h3 M38,366.5 h-3 M678,366.5 h3 M38,351.5 h-3 M678,351.5 h3 M38,335.5 h-3 M678,335.5 h3 M38,319.5 h-5 M678,319.5 h4 M38,304.5 h-3 M678,304.5 h3 M38,288.5 h-3 M678,288.5 h3 M38,272.5 h-3 M678,272.5 h3 M38,257.5 h-3 M678,257.5 h3 M38,241.5 h-5 M678,241.5 h4 M38,225.5 h-3 M678,225.5 h3 M38,210.5 h-3 M678,210.5 h3 M38,194.5 h-3 M678,194.5 h3 M38,179.5 h-3 M678,179.5 h3 M38,163.5 h-5 M678,163.5 h4 M38,147.5 h-3 M678,147.5 h3 M38,132.5 h-3 M678,132.5 h3 M38,116.5 h-3 M678,116.5 h3 M38,100.5 h-3 M678,100.5 h3 M38,85.5 h-5 M678,85.5 h4 M38,69.5 h-3 M678,69.5 h3 M38,53.5 h-3 M678,53.5 h3 M38,38.5 h-3 M678,38.5 h3 M38,22.5 h-3 M678,22.5 h3 M38,7.5 h-5 M678,7.5 h4" stroke="#757575" stroke-width="1" fill="none"/>
<g style="will-change:transform"><text transform="translate(31.4,403.25) scale(1.12,1)" text-anchor="end" font-size="12.2" fill="#333">20</text>
<text transform="translate(31.4,323.85) scale(1.12,1)" text-anchor="end" font-size="12.2" fill="#333">30</text>
<text transform="translate(31.4,245.85) scale(1.12,1)" text-anchor="end" font-size="12.2" fill="#333">40</text>
<text transform="translate(31.4,167.85) scale(1.12,1)" text-anchor="end" font-size="12.2" fill="#333">50</text>
<text transform="translate(31.4,89.85) scale(1.12,1)" text-anchor="end" font-size="12.2" fill="#333">60</text>
<text transform="translate(31.4,11.85) scale(1.12,1)" text-anchor="end" font-size="12.2" fill="#333">70</text>
<text transform="translate(38.10,417.6) scale(1.12,1)" text-anchor="middle" font-size="12.2" fill="#333">0</text>
<text transform="translate(165.90,417.6) scale(1.12,1)" text-anchor="middle" font-size="12.2" fill="#333">2</text>
<text transform="translate(293.70,417.6) scale(1.12,1)" text-anchor="middle" font-size="12.2" fill="#333">4</text>
<text transform="translate(421.50,417.6) scale(1.12,1)" text-anchor="middle" font-size="12.2" fill="#333">6</text>
<text transform="translate(549.30,417.6) scale(1.12,1)" text-anchor="middle" font-size="12.2" fill="#333">8</text>
<text transform="translate(677.10,417.6) scale(1.12,1)" text-anchor="middle" font-size="12.2" fill="#333">10</text>
<text x="360" y="433" text-anchor="middle" font-size="12" font-weight="bold">Time in s</text>
<text transform="translate(11.5,202) rotate(-90)" text-anchor="middle" font-size="12" font-weight="bold">Maximum Surface Temperature in °C</text></g>
<rect x="43.5" y="12.5" width="330" height="61" fill="#fff" stroke="#636363" stroke-width="1"/><g style="will-change:transform"><rect x="48" y="18.4" width="20" height="6.2" fill="#c5ddb4"/>
<text x="70.6" y="25.6" font-size="11.32">Measured scatter band dry experiments</text>
<rect x="48" y="32.1" width="20" height="6.2" fill="#cfd0ff"/>
<text x="70.6" y="39.3" font-size="11.32">Measured scatter band wet experiments</text>
<rect x="48" y="45.8" width="20" height="6.2" fill="#ff7f00"/>
<text x="70.6" y="53.0" font-size="11.32">Calculated scatter band (2,800 W/m²K <tspan fill="#a0a0a0">&lt;</tspan> <tspan font-style="italic">h</tspan><tspan font-size="7.92" dy="2">c</tspan><tspan dy="-2"> </tspan><tspan fill="#a0a0a0">&lt;</tspan> 3,400 W/m²K)</text>
<rect x="47.7" y="60" width="20.8" height="7.4" fill="#b85a00"/>
<text x="70.6" y="66.7" font-size="11.32">Calculated scatter band (4,800 W/m²K <tspan fill="#a0a0a0">&lt;</tspan> <tspan font-style="italic">h</tspan><tspan font-size="7.92" dy="2">c</tspan><tspan dy="-2"> </tspan><tspan fill="#a0a0a0">&lt;</tspan> 5,400 W/m²K)</text></g>
</svg>
</body></html>
